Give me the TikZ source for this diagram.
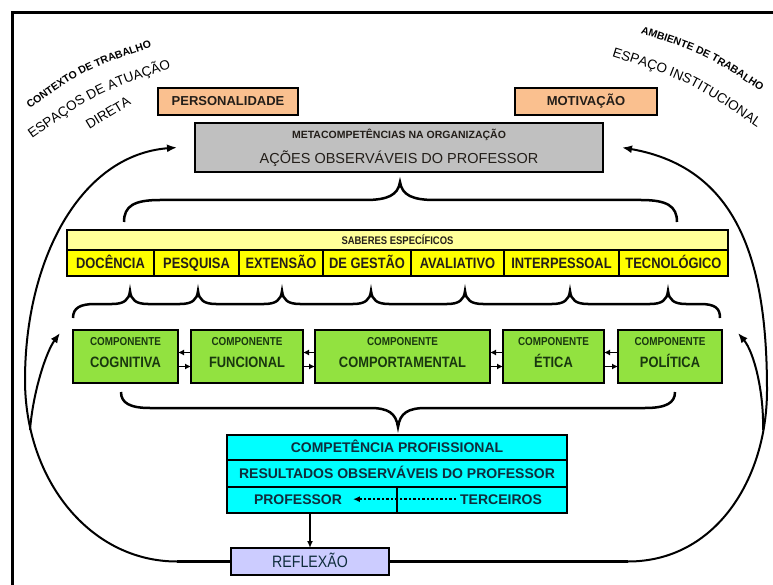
\documentclass[tikz,border=0pt]{standalone}
\usepackage{fontspec}
\setmainfont{Liberation Sans}
\newfontfamily\narrowfont[FakeStretch=0.86]{Liberation Sans}
\usetikzlibrary{arrows.meta,decorations.text}
\definecolor{peach}{RGB}{250,192,143}
\definecolor{metagray}{RGB}{192,192,192}
\definecolor{saberhead}{RGB}{255,255,153}
\definecolor{saber}{RGB}{255,255,0}
\definecolor{comp}{RGB}{146,226,64}
\definecolor{prof}{RGB}{0,255,255}
\definecolor{reflex}{RGB}{204,204,255}
\definecolor{comptext}{RGB}{25,55,15}
\definecolor{proftext}{RGB}{15,45,60}
\definecolor{darktext}{RGB}{35,30,25}

\tikzset{
  box/.style={draw, line width=2.2pt, inner sep=0pt, outer sep=0pt},
  lbl/.style={inner sep=0pt, anchor=base},
  cell/.style={box, fill=saber, minimum height=26pt, text=darktext,
    font=\narrowfont\bfseries\fontsize{15}{15}\selectfont, text height=10.7pt, text depth=0pt},
  row/.style={box, fill=prof, minimum width=340pt, text=proftext,
    font=\bfseries\fontsize{14}{14}\selectfont, text height=10pt, text depth=0pt},
  small/.style={-{Latex[length=6pt,width=6pt]}, line width=1.8pt},
  brace/.style={line width=2.5pt},
  arctext/.style={decorate, decoration={text along path, text align=center, text={#1}}},
}

\begin{document}
\begin{tikzpicture}[x=1pt, y=-1pt, line width=2pt, >={Latex[length=10pt,width=8pt]}]
\useasboundingbox (0,0) rectangle (773,585);
\draw[line width=3pt] (12,585) -- (12,13) -- (773,13);

\path[arctext={|\bfseries\fontsize{10.5}{10.5}\selectfont|CONTEXTO DE TRABALHO}]
  (27,111) .. controls (86,69) .. (155,46);
\path[arctext={|\fontsize{13.5}{13.5}\selectfont|ESPAÇOS DE ATUAÇÃO}]
  (28,142) .. controls (96,93) .. (176,67);
\path[arctext={|\fontsize{13.5}{13.5}\selectfont|DIRETA}]
  (84,133) -- (137,101);
\path[arctext={|\bfseries\fontsize{10.5}{10.5}\selectfont|AMBIENTE DE TRABALHO}]
  (631,30) .. controls (705,54) .. (769,97);
\path[arctext={|\fontsize{13.5}{13.5}\selectfont|ESPAÇO INSTITUCIONAL}]
  (604,54) .. controls (689,81) .. (764,132);

\node[box, fill=peach, minimum width=140pt, minimum height=27pt, text=darktext,
  font=\bfseries\fontsize{13}{13}\selectfont] (pers) at (228,101.5) {PERSONALIDADE};
\node[box, fill=peach, minimum width=142pt, minimum height=27pt, text=darktext,
  font=\bfseries\fontsize{13}{13}\selectfont] (motiv) at (586,101.5) {MOTIVAÇÃO};

\node[box, fill=metagray, minimum width=408pt, minimum height=49pt] (meta) at (399,147.5) {};
\node[lbl, text=darktext, font=\bfseries\fontsize{10.5}{10.5}\selectfont] (metat) at (399,139) {METACOMPETÊNCIAS NA ORGANIZAÇÃO};
\node[lbl, text=darktext, font=\fontsize{14.5}{14.5}\selectfont] (acoes) at (399,163.5) {AÇÕES OBSERVÁVEIS DO PROFESSOR};

\draw[brace] (124,222) .. controls (124,206) and (134,200) .. (160,200) -- (365,200)
  .. controls (388,200) and (398,195) .. (400,182) .. controls (402,195) and (412,200) .. (435,200)
  -- (641,200) .. controls (667,200) and (677,206) .. (677,222);

\node[box, fill=saberhead, minimum width=661pt, minimum height=20pt, text=darktext,
  font=\narrowfont\bfseries\fontsize{11}{11}\selectfont, text height=8pt, text depth=0pt] (sab) at (397.5,240) {SABERES ESPECÍFICOS};
\foreach \a/\b/\t [count=\i] in {67/154/DOCÊNCIA, 154/239/PESQUISA, 239/323/EXTENSÃO,
  323/411/DE GESTÃO, 411/504/AVALIATIVO, 504/619/INTERPESSOAL, 619/728/TECNOLÓGICO}
  \node[cell, minimum width={(\b-\a)*1pt}] (s\i) at ({(\a+\b)/2},263) {\t};

\draw[brace] (73,318) .. controls (73,308) and (80,304) .. (95,304)
  \foreach \t in {130,198,282,371,465,570,668} {
    -- (\t-18,304) .. controls (\t-6,304) and (\t-1,300) .. (\t,291)
    .. controls (\t+1,300) and (\t+6,304) .. (\t+18,304) }
  -- (700,304) .. controls (715,304) and (720,308) .. (720,318);

\foreach \a/\b/\t [count=\i] in {73/178/COGNITIVA, 191/303/FUNCIONAL, 315/490/COMPORTAMENTAL,
  503/604/ÉTICA, 618/722/POLÍTICA} {
  \node[box, fill=comp, minimum width={(\b-\a)*1pt}, minimum height=53pt] (c\i) at ({(\a+\b)/2},356.5) {};
  \node[lbl, text=comptext, font=\narrowfont\bfseries\fontsize{11.5}{11.5}\selectfont] (ct\i) at ({(\a+\b)/2},345) {COMPONENTE};
  \node[lbl, text=comptext, font=\narrowfont\bfseries\fontsize{15}{15}\selectfont] (cn\i) at ({(\a+\b)/2},367.5) {\t};
}
\foreach \i [evaluate=\i as \j using int(\i+1)] in {1,...,4} {
  \draw[small] ([yshift=4pt]c\j.west) -- ([yshift=4pt]c\i.east);
  \draw[small] ([yshift=-10pt]c\i.east) -- ([yshift=-10pt]c\j.west);
}

\draw[brace] (121,392) .. controls (121,403) and (130,408) .. (150,408) -- (370,408)
  .. controls (388,408) and (396,413) .. (398,427) .. controls (400,413) and (408,408) .. (426,408)
  -- (645,408) .. controls (666,408) and (675,403) .. (675,392);

\node[row, minimum height=25pt] (row1) at (397,447.5) {COMPETÊNCIA PROFISSIONAL};
\node[row, minimum height=27pt] (row2) at (397,473.5) {RESULTADOS OBSERVÁVEIS DO PROFESSOR};
\node[row, minimum height=26pt] (row3) at (397,500) {};
\node[lbl, text=proftext, font=\bfseries\fontsize{14}{14}\selectfont] (pr) at (298,504) {PROFESSOR};
\node[lbl, text=proftext, font=\bfseries\fontsize{14}{14}\selectfont] (te) at (501,504) {TERCEIROS};
\draw[dotted, line width=2.5pt, -{Latex[length=7pt,width=6pt]}] ([xshift=-3pt]te.west) -- ([xshift=10pt]pr.east);
\draw[line width=2.5pt] (row3.north) -- ([yshift=-1pt]row3.south);

\node[box, fill=reflex, minimum width=158pt, minimum height=27pt, text=proftext,
  font=\narrowfont\fontsize{16.5}{16.5}\selectfont, text height=11.8pt, text depth=0pt] (refl) at (310,561.5) {REFLEXÃO};
\draw[-{Latex[length=7pt,width=6pt]}] (refl.north |- row3.south) -- (refl.north);

\coordinate (lb) at (177,561.5);
\coordinate (rb) at (628,561.5);
\draw[line width=3.2pt] (refl.west) -- (lb);
\draw[line width=3.2pt] (refl.east) -- (rb);
\draw[->] (lb) .. controls (90,561.5) and (25,480) .. (25,380)
  .. controls (25,260) and (80,155) .. ([xshift=-18pt]meta.west);
\draw[->] (30,430) .. controls (33,392) and (46,352) .. ([xshift=-13pt,yshift=-3pt]c1.north west);
\draw[->] (rb) .. controls (715,561.5) and (767,480) .. (767,390)
  .. controls (767,265) and (740,168) .. ([xshift=19pt]meta.east);
\draw[->] (763,430) .. controls (764,392) and (754,352) .. ([xshift=16pt,yshift=-3pt]c5.north east);
\end{tikzpicture}
\end{document}
